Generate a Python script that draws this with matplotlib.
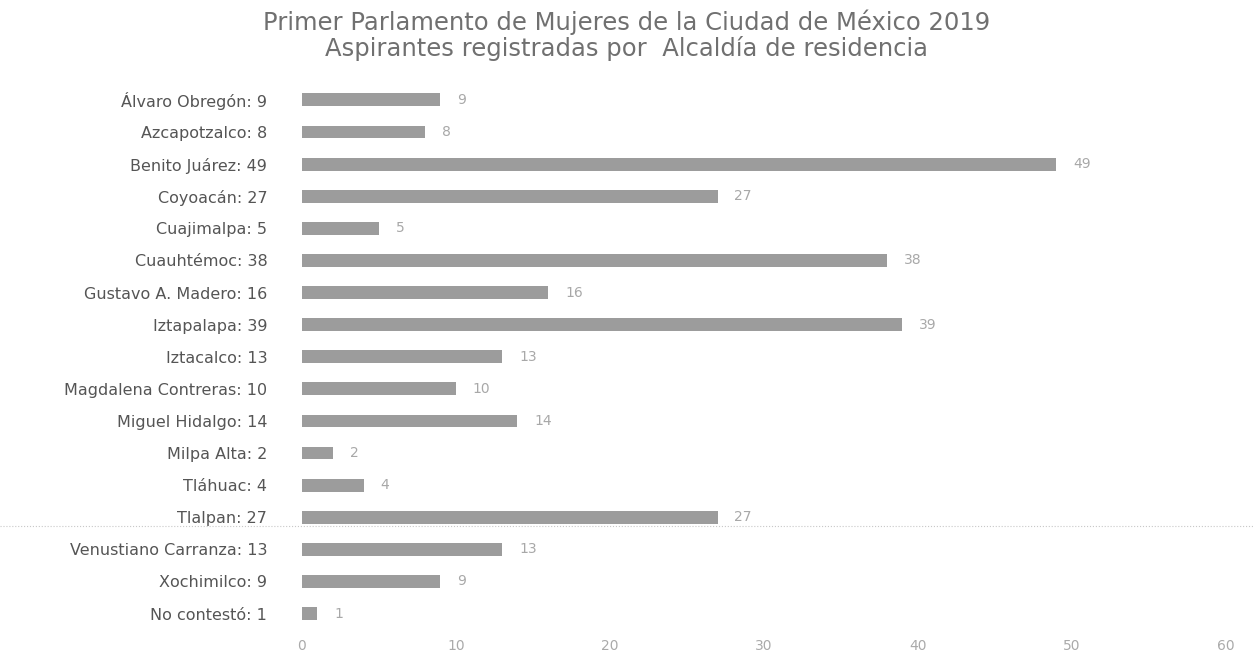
import matplotlib.pyplot as plt

# alcaldias and number of registered applicants
alcaldias = ["Álvaro Obregón", "Azcapotzalco", "Benito Juárez", "Coyoacán",
             "Cuajimalpa", "Cuauhtémoc", "Gustavo A. Madero", "Iztapalapa",
             "Iztacalco", "Magdalena Contreras", "Miguel Hidalgo", "Milpa Alta",
             "Tláhuac", "Tlalpan", "Venustiano Carranza", "Xochimilco",
             "No contestó"]
aspirantes = [9, 8, 49, 27, 5, 38, 16, 39, 13, 10, 14, 2, 4, 27, 13, 9, 1]
xticks = [0, 10, 20, 30, 40, 50, 60]

plt.rcParams['font.family'] = ['DejaVu Sans']

fig = plt.figure(figsize=(12.53, 6.6), dpi=100)
ax = fig.add_axes([0.241, 0.046, 0.737, 0.827])

ypos = list(range(len(alcaldias)))
ax.barh(ypos, aspirantes, height=0.4, color='#9c9c9c', edgecolor='none')
for y, v in zip(ypos, aspirantes):
    ax.text(v + 1.1, y, str(v), va='center', ha='left', fontsize=10, color='#a8a8a8')

ax.set_yticks(ypos)
ax.set_yticklabels([f"{a}: {v}" for a, v in zip(alcaldias, aspirantes)],
                   fontsize=11.5, color='#555555')
ax.set_ylim(len(alcaldias) - 0.5, -0.5)
ax.set_xlim(0, 60)
ax.set_xticks(xticks)
ax.set_xticklabels([str(t) for t in xticks], fontsize=10, color='#aaaaaa')
ax.tick_params(axis='y', length=0, pad=25)
ax.tick_params(axis='x', length=0, pad=7)
for s in ax.spines.values():
    s.set_visible(False)

fig.text(0.5, 0.966, "Primer Parlamento de Mujeres de la Ciudad de México 2019",
         ha='center', va='center', fontsize=17.5, color='#707070')
fig.text(0.5, 0.927, "Aspirantes registradas por  Alcaldía de residencia",
         ha='center', va='center', fontsize=17.5, color='#707070')

# faint scan line across the page
fig.add_artist(plt.Line2D([0, 1], [1 - 526 / 660, 1 - 526 / 660],
                          transform=fig.transFigure, color='#c8c8c8', lw=0.8, ls=':'))

fig.savefig('out.png', dpi=100)
